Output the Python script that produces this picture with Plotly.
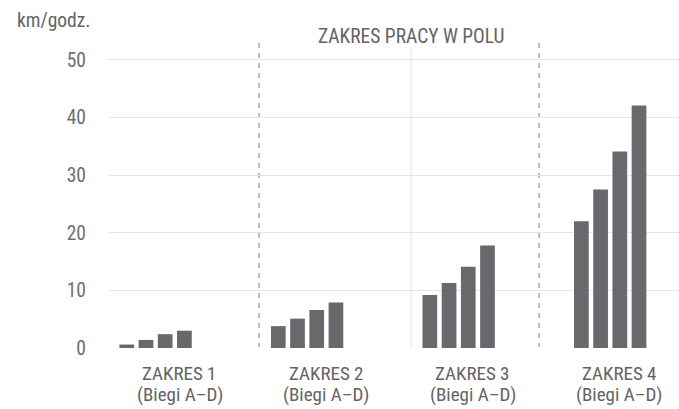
import plotly.graph_objects as go

# ---- data ----
ranges = [0, 1, 2, 3]                      # ZAKRES 1..4 (group positions)
range_labels = ["ZAKRES 1", "ZAKRES 2", "ZAKRES 3", "ZAKRES 4"]
gear_labels = ["(Biegi A–D)", "(Biegi A–D)", "(Biegi A–D)", "(Biegi A–D)"]
gear_names = ["Bieg A", "Bieg B", "Bieg C", "Bieg D"]
gear_a = [0.6, 3.8, 9.2, 22.0]
gear_b = [1.4, 5.1, 11.3, 27.5]
gear_c = [2.4, 6.6, 14.1, 34.1]
gear_d = [3.0, 7.9, 17.8, 42.1]
y_ticks = [0, 10, 20, 30, 40, 50]
unit_label = "km/godz."
title_text = "ZAKRES PRACY W POLU"

FONT = "Liberation Sans Narrow, Roboto Condensed, DejaVu Sans Condensed, Arial Narrow, sans-serif"
TXT = "#636366"
BAR = "#69696d"

fig = go.Figure()
for name, vals in zip(gear_names, [gear_a, gear_b, gear_c, gear_d]):
    fig.add_trace(go.Bar(x=ranges, y=vals, name=name, marker=dict(color=BAR, line=dict(width=0)),
                         showlegend=False, hoverinfo="skip"))

# label offsets (labels are not centred under bar groups in the source)
label_shift = 0.16
label_x = [r + label_shift - 0.033 * i for i, r in enumerate(ranges)]

annotations = []
for lx, l1, l2 in zip(label_x, range_labels, gear_labels):
    annotations.append(dict(x=lx, xref="x", y=0, yref="paper", text=l1, showarrow=False,
                            xanchor="center", yanchor="middle", yshift=-25.5,
                            font=dict(family=FONT, size=19, color=TXT)))
    annotations.append(dict(x=lx, xref="x", y=0, yref="paper", text=l2, showarrow=False,
                            xanchor="center", yanchor="middle", yshift=-46.5,
                            font=dict(family=FONT, size=19, color=TXT)))

annotations.append(dict(x=1.686, xref="x", y=1, yref="paper", text=title_text, showarrow=False,
                        xanchor="center", yanchor="middle", yshift=7,
                        font=dict(family=FONT, size=19.5, color=TXT)))
annotations.append(dict(x=-0.163, xref="paper", y=1, yref="paper", text=unit_label, showarrow=False,
                        xanchor="left", yanchor="middle", yshift=23,
                        font=dict(family=FONT, size=19.5, color=TXT)))

shapes = [
    dict(type="line", xref="x", yref="paper", x0=0.683, x1=0.683, y0=0, y1=1,
         line=dict(color="#9a9a9a", width=1.3, dash="5px,5px"), layer="below"),
    dict(type="line", xref="x", yref="y", x0=1.686, x1=1.686, y0=0, y1=52.1,
         line=dict(color="#e4e4e4", width=1), layer="below"),
    dict(type="line", xref="x", yref="paper", x0=2.531, x1=2.531, y0=0, y1=1,
         line=dict(color="#9a9a9a", width=1.3, dash="5px,5px"), layer="below"),
]

fig.update_layout(
    width=679, height=409,
    margin=dict(l=108, r=0, t=43, b=61),
    paper_bgcolor="white", plot_bgcolor="white",
    barmode="group", bargap=0.493, bargroupgap=0.234,
    annotations=annotations, shapes=shapes,
    font=dict(family=FONT, color=TXT, size=19.5),
    hovermode=False,
)
fig.update_xaxes(range=[-0.314, 3.454], showticklabels=False, showgrid=False, zeroline=False,
                 showline=False, ticks="")
fig.update_yaxes(range=[0, 52.95], tickvals=y_ticks, showgrid=True, gridcolor="#e6e6e6", gridwidth=1,
                 zeroline=True, zerolinecolor="white", zerolinewidth=2, showline=False, ticks="",
                 ticklabelstandoff=21, tickfont=dict(family=FONT, size=19.5, color="#6e6e70"))

fig.write_html("out.html", config={"displayModeBar": False},
               post_script="document.body.style.margin='0';document.body.style.overflow='hidden';")
